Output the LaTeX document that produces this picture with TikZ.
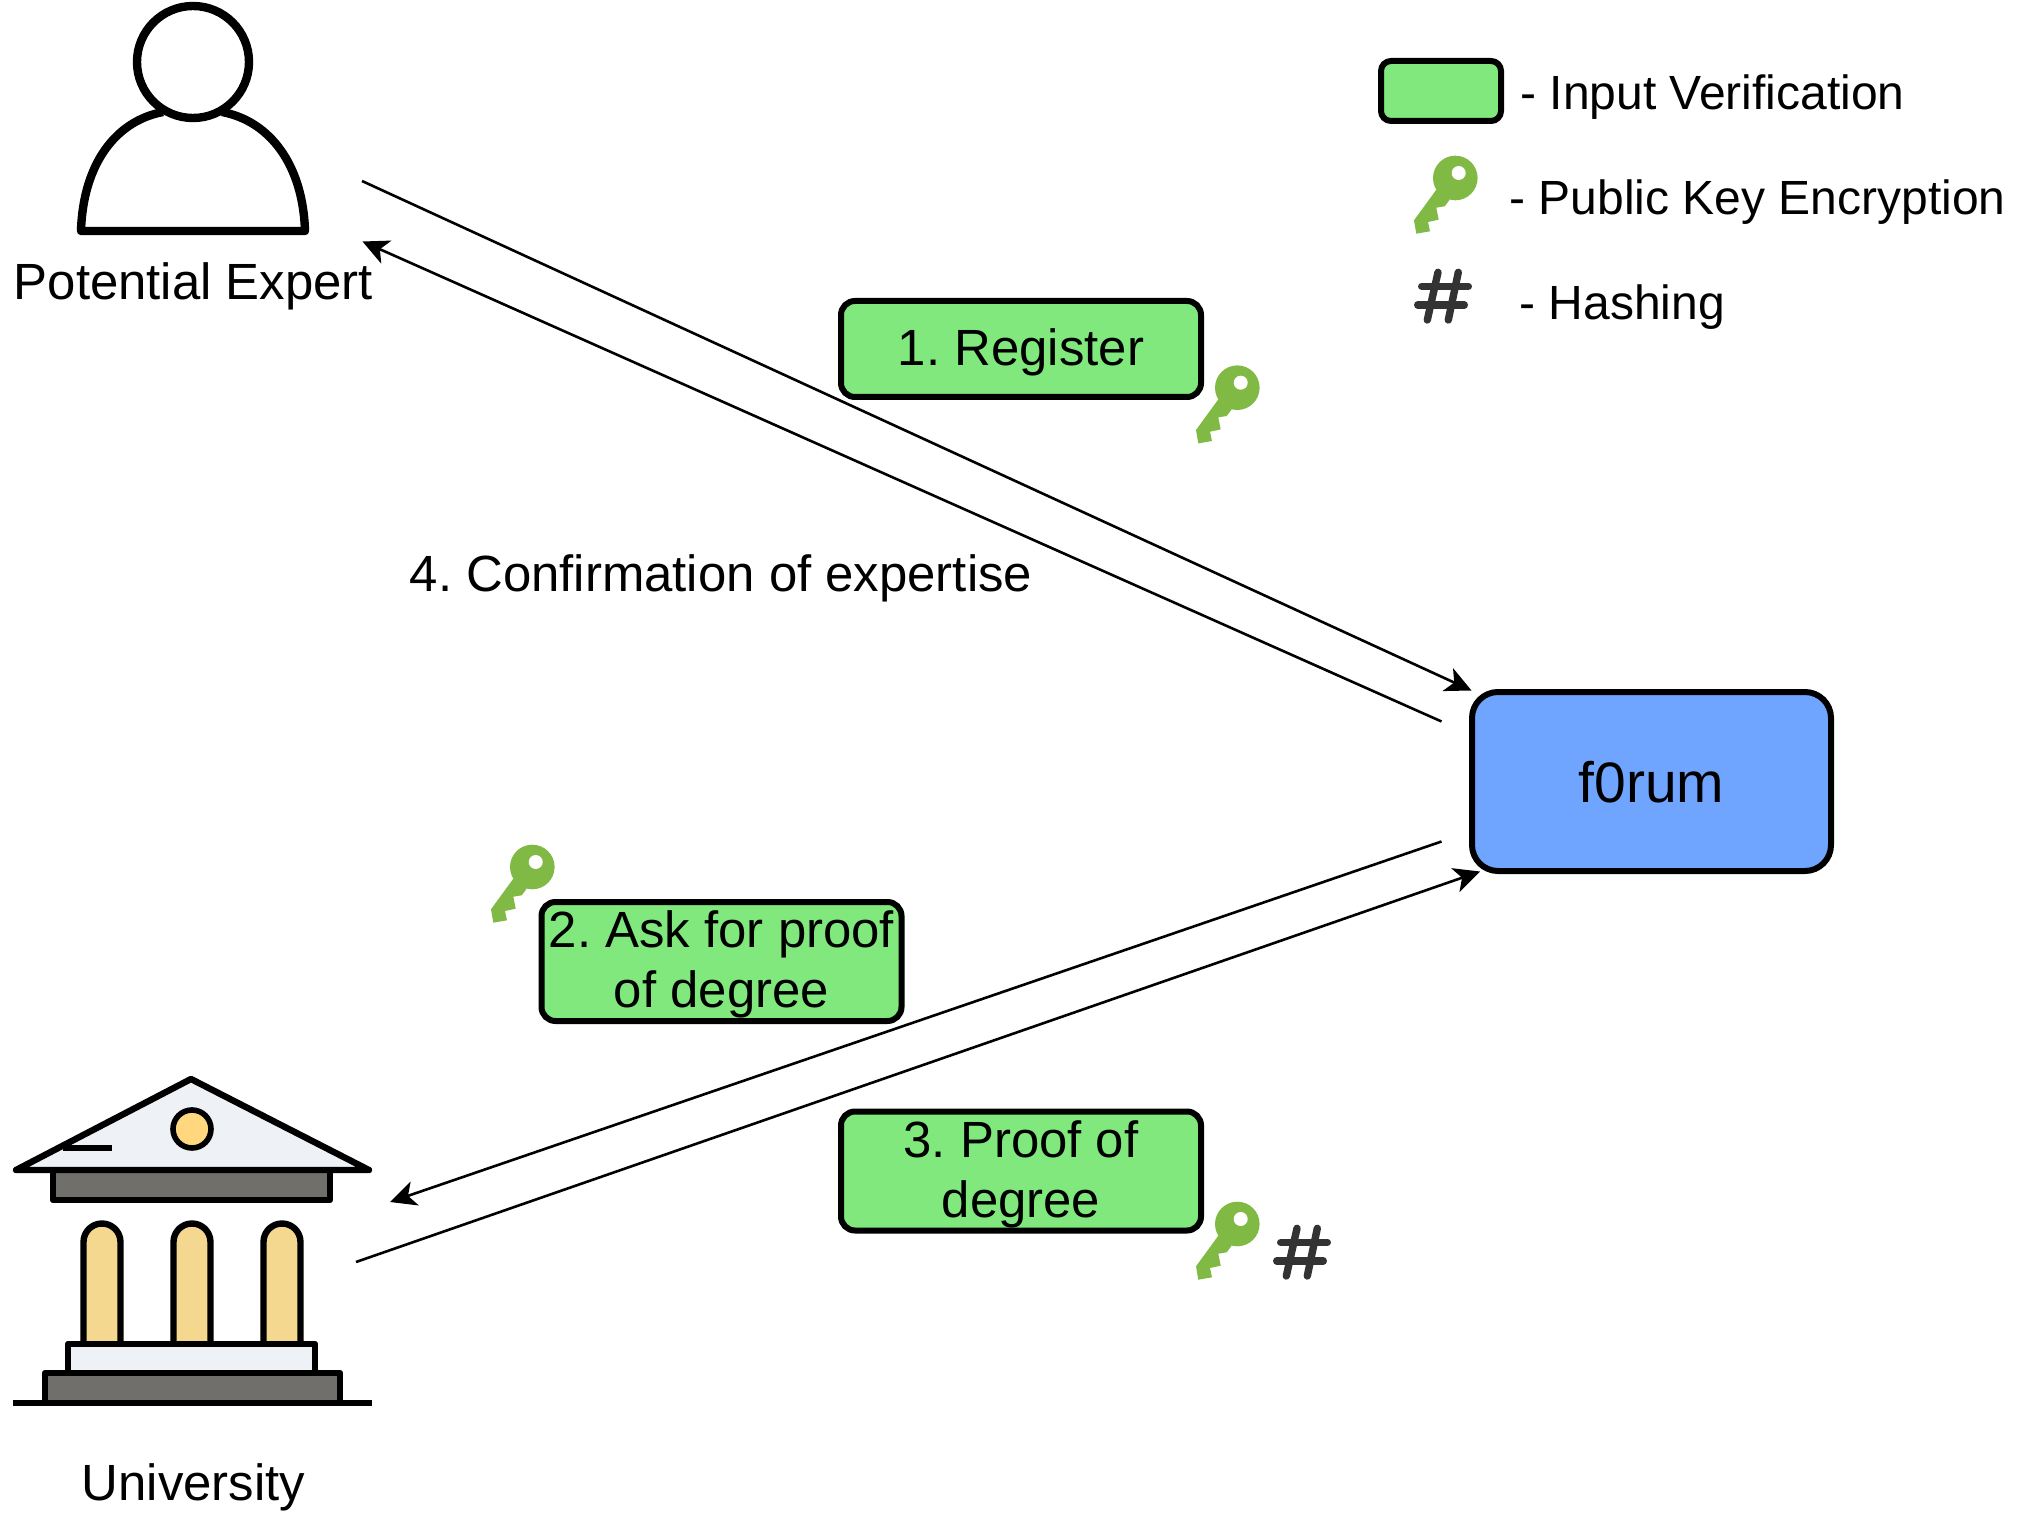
\documentclass[tikz,border=0pt]{standalone}
\usepackage{fontspec}
\setmainfont{Liberation Sans}
\frenchspacing
\usetikzlibrary{arrows.meta}
\definecolor{stepgreen}{HTML}{80E87C}
\definecolor{forumblue}{HTML}{6FA5FF}
\definecolor{keygreen}{HTML}{80B944}
\definecolor{hashgrey}{HTML}{333333}
\definecolor{roofgrey}{HTML}{EEF2F6}
\definecolor{stonegrey}{HTML}{706F6C}
\definecolor{pillaryellow}{HTML}{F5D88F}
\definecolor{sunyellow}{HTML}{FFD77F}
\tikzset{
  stepbox/.style={rectangle, rounded corners=7pt, draw=black, line width=3pt, fill=stepgreen, minimum width=180pt, minimum height=48pt, inner sep=0pt, text depth=2pt, align=center, font=\fontsize{25.45}{30}\selectfont},
  textlabel/.style={font=\fontsize{25.45}{30}\selectfont, inner sep=0pt, anchor=base},
  legendtext/.style={font=\fontsize{24}{28}\selectfont, inner sep=0pt, anchor=base west},
  flow/.style={-{Stealth[length=13pt, width=12.5pt, inset=3.5pt]}, line width=1.3pt, black},
  iconline/.style={draw=black, line width=3.2pt, line join=round},
  keyicon/.pic={
    \fill[keygreen] (0,64.3) -- (22.3,33.7) -- (35.7,43.7) -- (30.7,50.3) -- (22.3,51.7) -- (24.7,63.7) -- (14,66) -- (16,75.3) -- (2.3,77.7) -- cycle;
    \fill[keygreen] (41.3,22) circle[radius=22.3];
    \fill[white] (44.7,17) circle[radius=7];
  },
  hashicon/.pic={
    \draw[hashgrey, line width=3.7pt, line cap=round] (6.7,17.3) -- (53.3,17.3);
    \draw[hashgrey, line width=3.7pt, line cap=round] (2.7,36) -- (49.3,36);
    \draw[hashgrey, line width=3.7pt, line cap=round] (23,3.3) -- (12.3,51);
    \draw[hashgrey, line width=3.7pt, line cap=round] (43.3,3.3) -- (33.3,51);
  }
}

\begin{document}
\begin{tikzpicture}[x=0.5pt, y=-0.5pt]
\useasboundingbox (0,0) rectangle (2028,1518);

% Person
\draw[line width=4.2pt, line join=round] (163,112) .. controls (115,121) and (83,165) .. (81,231) -- (305,231) .. controls (303,165) and (270,121) .. (222,112);
\draw[line width=4.2pt, fill=white] (193,62) circle[radius=56];
\node[textlabel] (expert) at (193.5,299.5) {Potential Expert};

% University
\draw[iconline, fill=stonegrey] (53,1170) rectangle (330,1200);
\draw[iconline, fill=roofgrey] (191,1079) -- (369,1170) -- (16,1170) -- cycle;
\draw[iconline, line width=2.8pt, fill=sunyellow] (192,1129) circle[radius=19];
\draw[iconline, line width=2.8pt] (63,1148) -- (112,1148);
\foreach \colx in {102,192,282}
  \draw[iconline, fill=pillaryellow] (\colx-18.5,1344) -- (\colx-18.5,1242) arc[start angle=180, end angle=360, radius=18.5] -- (\colx+18.5,1344);
\draw[iconline, fill=roofgrey] (68,1344) rectangle (315,1373);
\draw[iconline, fill=stonegrey] (45,1373) rectangle (340,1403);
\draw[iconline] (13,1403) -- (372,1403);
\node[textlabel] (university) at (193.5,1500) {University};

% Forum
\node[rectangle, rounded corners=13pt, draw=black, line width=3pt, fill=forumblue, minimum width=179.5pt, minimum height=89.5pt, inner sep=0pt, text depth=0pt, font=\fontsize{28.5}{32}\selectfont] (forum) at (1651.5,781.5) {f0rum};

% Steps
\node[stepbox] (register) at (1021,349) {1. Register};
\node[stepbox, minimum height=59.5pt] (askproof) at (721.5,961.5) {2. Ask for proof\\of degree};
\node[stepbox, minimum height=59.5pt] (proof) at (1021,1171) {3. Proof of\\degree};
\node[textlabel] (confirm) at (721,591) {4. Confirmation of expertise};

% Arrow ends
\coordinate (expertout) at (362,181);
\coordinate (expertin) at (362.5,241.5);
\coordinate (forumin) at (1471.5,690.5);
\coordinate (forumout) at (1441.5,721.5);
\coordinate (forumdown) at (1441.5,841.5);
\coordinate (forumup) at (1480,871.5);
\coordinate (uniin) at (390,1202);
\coordinate (uniout) at (356,1262);

\draw[flow] (expertout) -- (forumin);
\draw[flow] (forumout) -- (expertin);
\draw[flow] (forumdown) -- (uniin);
\draw[flow] (uniout) -- (forumup);

% Icons next to steps
\pic (keyreg) at (1196,365.7) {keyicon};
\pic (keyask) at (491,845) {keyicon};
\pic (keyproof) at (1196,1202) {keyicon};
\pic (hashproof) at (1274,1225) {hashicon};

% Legend
\node[stepbox, minimum width=60pt, minimum height=30pt, rounded corners=5pt] (legendbox) at (1441,91) {};
\node[legendtext] (legendinput) at (1520,109.5) {- Input Verification};
\pic (legendkey) at (1414,156) {keyicon};
\node[legendtext] (legendkeytext) at (1509,214.5) {- Public Key Encryption};
\pic (legendhash) at (1415,269) {hashicon};
\node[legendtext] (legendhashtext) at (1519,319.5) {- Hashing};

\end{tikzpicture}
\end{document}
